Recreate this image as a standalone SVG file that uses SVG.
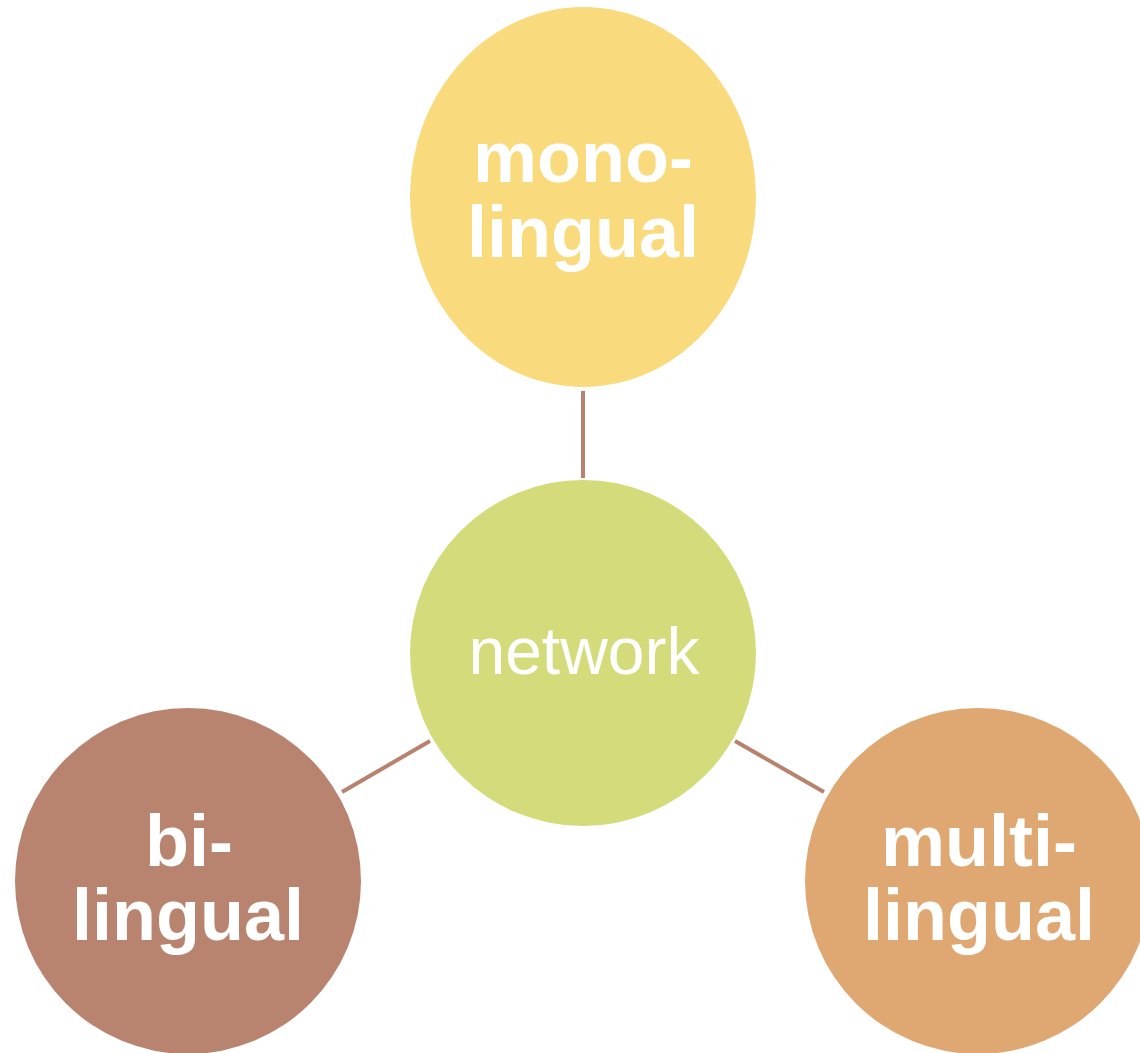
<svg xmlns="http://www.w3.org/2000/svg" width="1140" height="1053" viewBox="0 0 1140 1053">
<style>
.lbl{font-family:"Liberation Sans",Arial,sans-serif;fill:#fff;text-anchor:middle}
.b{font-weight:bold;font-size:72px}
.n{font-size:66px}
.con{stroke:#B8826F;stroke-width:4;fill:none}
</style>
<rect width="1140" height="1053" fill="#fff"/>
<g id="connectors">
<line class="con" x1="583" y1="391" x2="583" y2="478"/>
<line class="con" x1="342" y1="792" x2="430" y2="741"/>
<line class="con" x1="735" y1="741" x2="824" y2="792"/>
</g>
<g id="node-mono">
<ellipse cx="583" cy="197" rx="173" ry="190" fill="#F9DA7D"/>
<text class="lbl b" x="583" y="182">mono-</text>
<text class="lbl b" x="583" y="257">lingual</text>
</g>
<g id="node-network">
<circle cx="583" cy="653" r="173" fill="#D4DB7B"/>
<text class="lbl n" x="584" y="674">network</text>
</g>
<g id="node-bi">
<circle cx="188" cy="881" r="173" fill="#B8846F"/>
<text class="lbl b" x="189" y="866">bi-</text>
<text class="lbl b" x="188" y="940">lingual</text>
</g>
<g id="node-multi">
<circle cx="978" cy="881" r="173" fill="#DFA771"/>
<text class="lbl b" x="979" y="866">multi-</text>
<text class="lbl b" x="979" y="940">lingual</text>
</g>
</svg>
